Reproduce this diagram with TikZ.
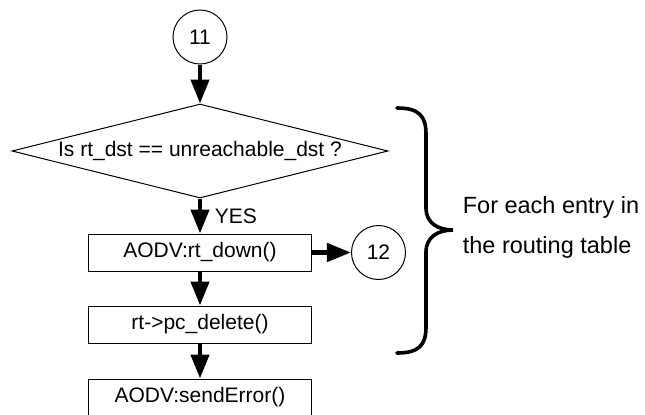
\documentclass[tikz,border=0pt]{standalone}
\usepackage{fontspec}
\setmainfont{Liberation Sans}
\usetikzlibrary{shapes.geometric, arrows.meta, positioning}

\begin{document}
\begin{tikzpicture}[x=0.5pt, y=-0.5pt, font=\fontsize{10.5}{12.5}\selectfont,
    box/.style={draw, line width=0.5pt, minimum width=111.5pt, minimum height=18.5pt, align=center},
    conn/.style={draw, circle, line width=0.5pt, minimum size=27pt, inner sep=0pt},
    dec/.style={draw, diamond, line width=0.5pt, aspect=4, inner sep=0pt, minimum width=188pt, minimum height=47pt},
    arrow/.style={-{Triangle[length=12pt, width=9pt]}, line width=2.2pt},
    brace/.style={line width=1.8pt, line cap=round}]
    \useasboundingbox (0,0) rectangle (645,414);
    \node[dec] (check) at (200,151) {Is rt\_dst == unreachable\_dst ?};
    \node[conn, above=19.5pt of check] (c11) {11};
    \node[box, below=17.5pt of check] (down) {AODV:rt\_down()};
    \node[box, below=17pt of down] (del) {rt->pc\_delete()};
    \node[box, below=17.5pt of del] (senderr) {AODV:sendError()};
    \node[conn, right=19.5pt of down] (c12) {12};

    \draw[arrow] (c11) -- (check);
    \draw[arrow] (check) -- node[right, xshift=3pt] {YES} (down);
    \draw[arrow] (down) -- (c12);
    \draw[arrow] (down) -- (del);
    \draw[arrow] (del) -- (senderr);

    % loop over the routing table
    \draw[brace] (397,108) .. controls (419,108) and (426,116) .. (426,134)
        -- (426,208) .. controls (426,223) and (438,230) .. (453,230)
        .. controls (438,230) and (426,237) .. (426,252)
        -- (426,327) .. controls (426,345) and (419,353) .. (397,353);
    \node[align=left, font=\fontsize{11.75}{20}\selectfont] (note) at (551,227) {For each entry in\\the routing table};
\end{tikzpicture}
\end{document}
